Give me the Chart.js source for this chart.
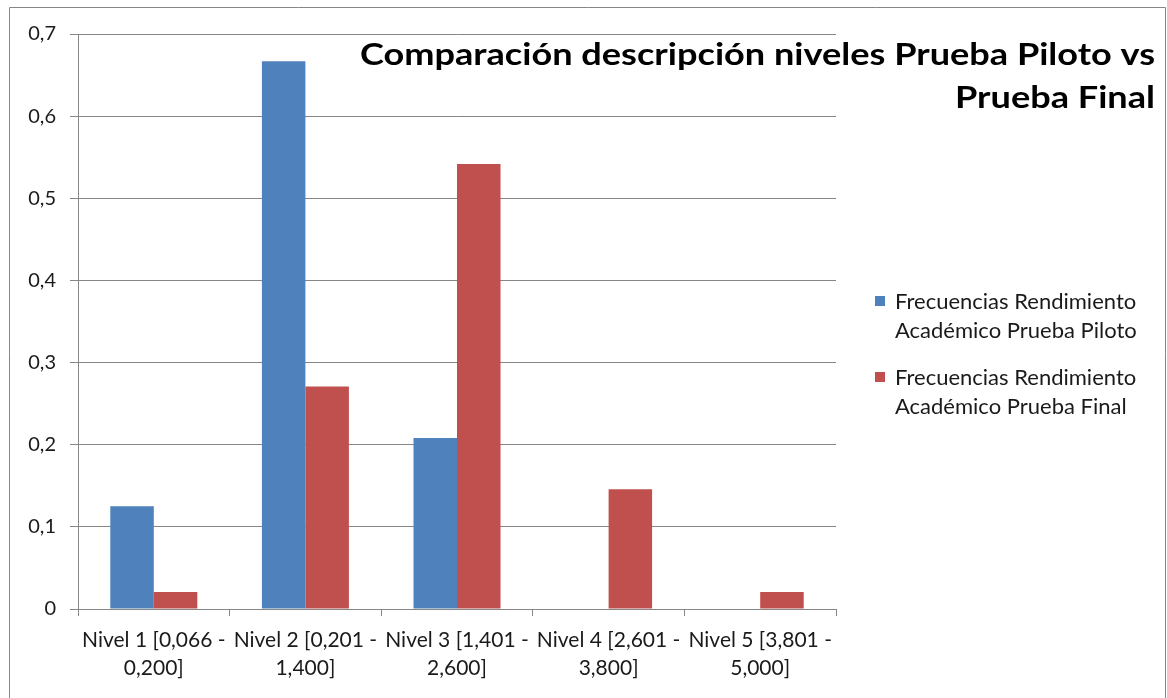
<!DOCTYPE html>
<html>
<head>
<meta charset="utf-8">
<script src="https://cdn.jsdelivr.net/npm/chart.js@4/dist/chart.umd.min.js"></script>
<style>
  html, body { margin: 0; padding: 0; background: #fff; }
  #wrap { width: 1167px; height: 698px; position: relative; }
</style>
</head>
<body>
<div id="wrap"><canvas id="c" width="1167" height="698"></canvas></div>
<script>
// Category labels (two lines each)
const categories = [
  ['Nivel 1 [0,066 -', '0,200]'],
  ['Nivel 2 [0,201 -', '1,400]'],
  ['Nivel 3 [1,401 -', '2,600]'],
  ['Nivel 4 [2,601 -', '3,800]'],
  ['Nivel 5 [3,801 -', '5,000]']
];
// Relative frequencies per level
const pilotValues = [0.125, 0.6667, 0.2083, 0, 0];
const finalValues = [0.0208, 0.2708, 0.5417, 0.1458, 0.0208];
const seriesNames = [
  ['Frecuencias Rendimiento', 'Académico Prueba Piloto'],
  ['Frecuencias Rendimiento', 'Académico Prueba Final']
];
const titleLines = ['Comparación descripción niveles Prueba Piloto vs', 'Prueba Final'];
const yTicks = [0, 0.1, 0.2, 0.3, 0.4, 0.5, 0.6, 0.7];

const FONT = 'Lato, "Open Sans", sans-serif';
const TEXT = '#1a1a1a';
const AXIS = '#868686';
const BLUE = '#4f81bd';
const RED = '#c0504d';

const decorations = {
  id: 'decorations',
  beforeDraw(chart) {
    const ctx = chart.ctx;
    ctx.save();
    ctx.fillStyle = '#fff';
    ctx.fillRect(0, 0, chart.width, chart.height);
    ctx.strokeStyle = AXIS;
    ctx.lineWidth = 1;
    ctx.beginPath();
    ctx.moveTo(9.5, chart.height + 2);
    ctx.lineTo(9.5, 7.5);
    ctx.lineTo(1165.5, 7.5);
    ctx.lineTo(1165.5, chart.height + 2);
    ctx.stroke();
    ctx.restore();
  },
  afterDraw(chart) {
    const ctx = chart.ctx;
    ctx.save();
    // title, right-aligned and slightly widened
    ctx.fillStyle = '#000';
    ctx.font = 'bold 31px ' + FONT;
    ctx.textAlign = 'right';
    ctx.textBaseline = 'middle';
    const w = ctx.measureText(titleLines[0]).width;
    const sx = 795 / w;
    ctx.save();
    ctx.translate(1155, 0);
    ctx.scale(sx, 1);
    ctx.fillText(titleLines[0], 0, 55);
    ctx.fillText(titleLines[1], 0, 98);
    ctx.restore();
    // legend
    ctx.font = '22px ' + FONT;
    ctx.textAlign = 'left';
    const starts = [302, 378];
    chart.data.datasets.forEach((ds, i) => {
      const y = starts[i];
      ctx.fillStyle = ds.backgroundColor;
      ctx.fillRect(875, y - 6, 10, 10);
      ctx.fillStyle = TEXT;
      seriesNames[i].forEach((line, j) => ctx.fillText(line, 895, y + j * 29));
    });
    ctx.restore();
  }
};

new Chart(document.getElementById('c'), {
  type: 'bar',
  data: {
    labels: categories,
    datasets: [
      { label: seriesNames[0].join(' '), data: pilotValues, backgroundColor: BLUE,
        categoryPercentage: 0.574, barPercentage: 1 },
      { label: seriesNames[1].join(' '), data: finalValues, backgroundColor: RED,
        categoryPercentage: 0.574, barPercentage: 1 }
    ]
  },
  options: {
    responsive: false,
    animation: false,
    layout: { padding: { left: 0, top: 34, right: 331, bottom: 0 } },
    plugins: {
      legend: { display: false },
      title: { display: false },
      tooltip: { enabled: false }
    },
    scales: {
      x: {
        grid: { offset: true, drawOnChartArea: false, drawTicks: true, tickLength: 7, color: AXIS },
        border: { color: AXIS },
        ticks: { color: TEXT, font: { family: FONT, size: 21, lineHeight: 1.33 }, padding: 10, maxRotation: 0, autoSkip: false },
        afterFit(s) { s.height = 89; }
      },
      y: {
        min: 0, max: 0.7,
        afterBuildTicks(s) { s.ticks = yTicks.map(v => ({ value: v })); },
        grid: { color: AXIS, tickLength: 8 },
        border: { color: AXIS },
        ticks: {
          color: TEXT, font: { family: FONT, size: 20 }, padding: 14,
          callback: v => v === 0 ? '0' : v.toFixed(1).replace('.', ',')
        },
        afterFit(s) { s.width = 78; }
      }
    }
  },
  plugins: [decorations]
});
</script>
</body>
</html>
